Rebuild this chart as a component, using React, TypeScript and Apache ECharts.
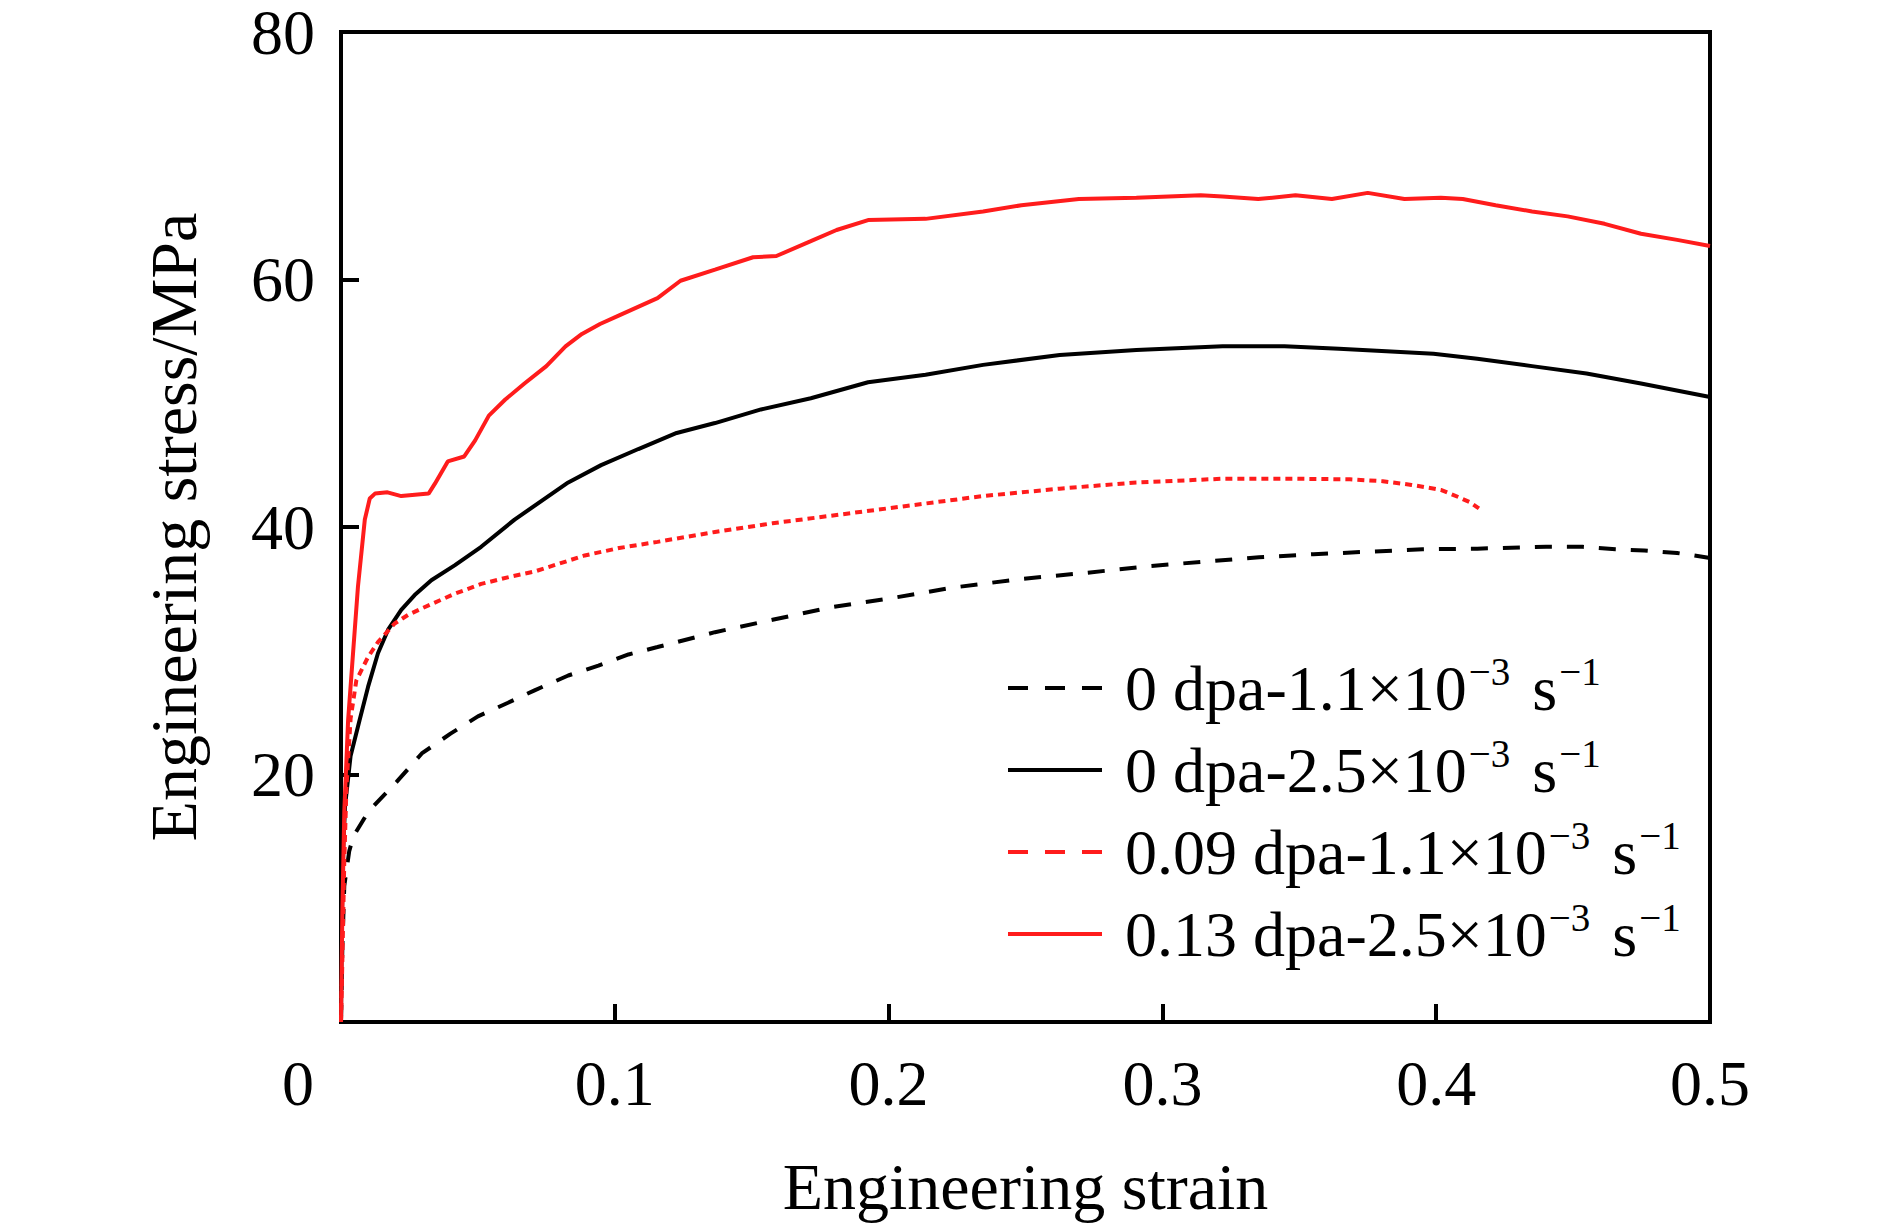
import React, { useEffect, useRef } from "react";
import * as echarts from "echarts";

const FONT = "'Liberation Serif', 'Times New Roman', serif";
const RED = "#ff1c1c";

const seriesNames = [
  "0 dpa-1.1×10−3 s−1",
  "0 dpa-2.5×10−3 s−1",
  "0.09 dpa-1.1×10−3 s−1",
  "0.13 dpa-2.5×10−3 s−1",
];
const doseLabels = ["0", "0", "0.09", "0.13"];
const rateLabels = ["1.1", "2.5", "1.1", "2.5"];

const xTicks = [0, 0.1, 0.2, 0.3, 0.4, 0.5];
const yTicks = [0, 20, 40, 60, 80];

// 0 dpa - 1.1e-3 s^-1 (black dashed)
const black11: number[][] = [
  [0, 0], [0.0005, 6], [0.0012, 11], [0.003, 13.8], [0.0045, 15.0], [0.01, 17.0],
  [0.0203, 19.4], [0.0295, 21.7], [0.04, 23.3], [0.05, 24.7], [0.061, 25.8],
  [0.0707, 26.8], [0.083, 28.0], [0.094, 28.8], [0.105, 29.7], [0.1156, 30.3],
  [0.1366, 31.5], [0.1576, 32.5], [0.1786, 33.5], [0.2023, 34.3], [0.2233, 35.1],
  [0.2485, 35.8], [0.2723, 36.3], [0.296, 36.85], [0.3154, 37.2], [0.3353, 37.55],
  [0.3552, 37.8], [0.375, 38.0], [0.395, 38.2], [0.415, 38.25], [0.4402, 38.4],
  [0.4535, 38.4], [0.4655, 38.2], [0.476, 38.1], [0.488, 37.9], [0.5, 37.5],
];

// 0 dpa - 2.5e-3 s^-1 (black solid)
const black25: number[][] = [
  [0, 0], [0.0003, 8], [0.0008, 14], [0.0015, 17.5], [0.0035, 21.5], [0.0068, 24.4],
  [0.0099, 27.1], [0.0135, 29.8], [0.0172, 31.7], [0.022, 33.3], [0.0269, 34.5],
  [0.033, 35.7], [0.0415, 36.9], [0.0512, 38.4], [0.0634, 40.6], [0.083, 43.6],
  [0.095, 45.0], [0.1086, 46.3], [0.1226, 47.6],
  [0.1366, 48.4], [0.1534, 49.5], [0.1716, 50.4], [0.1925, 51.7], [0.2135, 52.3],
  [0.2345, 53.1], [0.2625, 53.9], [0.2905, 54.3], [0.322, 54.6], [0.3446, 54.6],
  [0.3645, 54.4], [0.3818, 54.2], [0.399, 54.0], [0.415, 53.6], [0.435, 53.0],
  [0.4549, 52.4], [0.4748, 51.6], [0.5, 50.5],
];

// 0.09 dpa - 1.1e-3 s^-1 (red dashed)
const red11: number[][] = [
  [0, 0], [0.0005, 5], [0.0012, 13], [0.002, 19], [0.0035, 24.5], [0.0056, 27.6],
  [0.0099, 29.5], [0.0135, 30.7], [0.0196, 32.2], [0.0245, 32.9], [0.0293, 33.4],
  [0.0415, 34.6], [0.0512, 35.4], [0.0622, 36.0], [0.0707, 36.4], [0.089, 37.7],
  [0.1016, 38.3], [0.1156, 38.8], [0.1366, 39.6],
  [0.1576, 40.3], [0.1786, 40.9], [0.2065, 41.7], [0.2345, 42.5], [0.2625, 43.1],
  [0.2905, 43.6], [0.322, 43.9], [0.3486, 43.9], [0.3685, 43.85], [0.3805, 43.7],
  [0.391, 43.4], [0.4017, 43.0], [0.4083, 42.4], [0.4123, 42.0], [0.4156, 41.5],
];

// 0.13 dpa - 2.5e-3 s^-1 (red solid)
const red25: number[][] = [
  [0, 0], [0.0005, 9], [0.0012, 17], [0.0026, 24.4], [0.0044, 29.8], [0.0062, 35.2],
  [0.0087, 40.6], [0.0105, 42.3], [0.0124, 42.7], [0.017, 42.8], [0.022, 42.5],
  [0.027, 42.6], [0.032, 42.7],
  [0.0343, 43.5], [0.039, 45.3], [0.045, 45.7], [0.049, 47.0], [0.054, 49.0],
  [0.06, 50.3], [0.067, 51.6], [0.075, 53.0], [0.082, 54.6], [0.088, 55.6],
  [0.0946, 56.4], [0.1016, 57.1], [0.1156, 58.5], [0.124, 59.9], [0.1366, 60.8],
  [0.1505, 61.8], [0.159, 61.9], [0.1716, 63.1], [0.181, 64.0], [0.1925, 64.8],
  [0.2135, 64.9], [0.2345, 65.5], [0.2485, 66.0], [0.2695, 66.5], [0.2905, 66.6],
  [0.314, 66.8], [0.322, 66.7], [0.335, 66.5], [0.3486, 66.8], [0.3619, 66.5],
  [0.375, 67.0], [0.3884, 66.5], [0.4017, 66.6], [0.4097, 66.5], [0.4217, 66.0],
  [0.435, 65.5], [0.448, 65.1], [0.4615, 64.5], [0.4748, 63.7], [0.488, 63.2],
  [0.5, 62.7],
];

const seriesData = [black11, black25, red11, red25];
const seriesColors = ["#000000", "#000000", RED, RED];
const seriesDash: any[] = [[17, 15], "solid", [7, 5], "solid"];
const legendDash: any[] = [[20, 17], "solid", [20, 17], "solid"];

export default function App() {
  const ref = useRef<HTMLDivElement>(null);

  useEffect(() => {
    document.body.style.margin = "0";
    document.body.style.overflow = "hidden";
    if (!ref.current) return;
    const chart = echarts.init(ref.current, undefined, { renderer: "svg" });

    const option: any = {
      animation: false,
      backgroundColor: "#ffffff",
      grid: {
        left: 341,
        right: 180,
        top: 32,
        bottom: 205,
        show: true,
        borderColor: "#000",
        borderWidth: 4,
      },
      xAxis: {
        type: "value",
        min: xTicks[0],
        max: xTicks[xTicks.length - 1],
        interval: 0.1,
        name: "Engineering strain",
        nameLocation: "middle",
        nameGap: 131,
        nameTextStyle: { fontFamily: FONT, fontSize: 66, color: "#000" },
        axisLine: { show: true, lineStyle: { color: "#000", width: 4 } },
        axisTick: { show: true, inside: true, length: 18, lineStyle: { color: "#000", width: 4 } },
        splitLine: { show: false },
        axisLabel: {
          fontFamily: FONT,
          fontSize: 64,
          color: "#000",
          margin: 29,
          formatter: (v: number) => {
            const r = Math.round(v * 10) / 10;
            return r === 0 ? "{z|0}" : String(r);
          },
          rich: {
            z: { fontFamily: FONT, fontSize: 64, color: "#000", padding: [0, 86, 0, 0] },
          },
        },
      },
      yAxis: {
        type: "value",
        min: yTicks[0],
        max: yTicks[yTicks.length - 1],
        interval: 20,
        name: "Engineering stress/MPa",
        nameLocation: "middle",
        nameGap: 135,
        nameTextStyle: { fontFamily: FONT, fontSize: 66, color: "#000" },
        axisLine: { show: true, lineStyle: { color: "#000", width: 4 } },
        axisTick: { show: true, inside: true, length: 18, lineStyle: { color: "#000", width: 4 } },
        splitLine: { show: false },
        axisLabel: {
          fontFamily: FONT,
          fontSize: 64,
          lineHeight: 52,
          color: "#000",
          margin: 26,
          showMinLabel: false,
        },
      },
      legend: {
        orient: "vertical",
        left: 1006,
        top: 652,
        padding: 0,
        itemWidth: 94,
        itemHeight: 20,
        itemGap: 14,
        selectedMode: false,
        lineStyle: { width: 4 },
        itemStyle: { opacity: 0, borderWidth: 0 },
        formatter: (name: string) => {
          const i = seriesNames.indexOf(name);
          return `{a|${doseLabels[i]} dpa-${rateLabels[i]}×10}{s|−3}{b|s}{s|−1}`;
        },
        textStyle: {
          fontFamily: FONT,
          fontSize: 64,
          color: "#000",
          rich: {
            a: { fontFamily: FONT, fontSize: 64, lineHeight: 72, color: "#000", padding: [0, 0, 0, 18] },
            b: { fontFamily: FONT, fontSize: 64, lineHeight: 72, color: "#000", padding: [0, 0, 0, 22] },
            s: { fontFamily: FONT, fontSize: 39, lineHeight: 52, color: "#000", verticalAlign: "top", padding: [0, 0, 0, 2] },
          },
        },
        data: seriesNames.map((n, i) => ({
          name: n,
          itemStyle: { opacity: 0, borderWidth: 0 },
          lineStyle: { type: legendDash[i], width: 4, color: seriesColors[i], opacity: 1 },
        })),
      },
      series: seriesNames.map((n, i) => ({
        name: n,
        type: "line",
        data: seriesData[i],
        showSymbol: false,
        symbol: "none",
        smooth: false,
        color: seriesColors[i],
        lineStyle: { color: seriesColors[i], width: 4, type: seriesDash[i] },
        z: 2 + i,
      })),
    };

    chart.setOption(option);
    return () => chart.dispose();
  }, []);

  return <div ref={ref} style={{ width: 1890, height: 1227 }} />;
}
